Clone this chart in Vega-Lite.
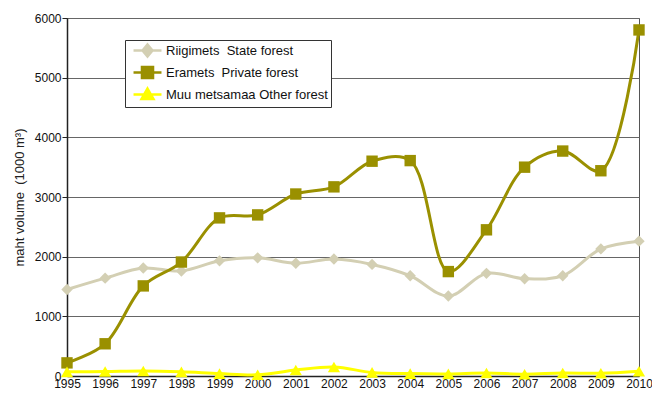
{
  "$schema": "https://vega.github.io/schema/vega-lite/v6.json",
  "width": 572,
  "height": 358,
  "autosize": "none",
  "padding": {"left": 67, "top": 18, "right": 13, "bottom": 20},
  "background": "white",
  "config": {
    "font": "Liberation Sans, Arial, sans-serif",
    "view": {"stroke": "#555", "strokeWidth": 1}
  },
  "data": {
    "values": [
      {"year": 1995, "series": "Riigimets\u00a0\u00a0State forest", "value": 1450},
      {"year": 1996, "series": "Riigimets\u00a0\u00a0State forest", "value": 1640},
      {"year": 1997, "series": "Riigimets\u00a0\u00a0State forest", "value": 1810},
      {"year": 1998, "series": "Riigimets\u00a0\u00a0State forest", "value": 1760},
      {"year": 1999, "series": "Riigimets\u00a0\u00a0State forest", "value": 1930},
      {"year": 2000, "series": "Riigimets\u00a0\u00a0State forest", "value": 1980},
      {"year": 2001, "series": "Riigimets\u00a0\u00a0State forest", "value": 1890},
      {"year": 2002, "series": "Riigimets\u00a0\u00a0State forest", "value": 1960},
      {"year": 2003, "series": "Riigimets\u00a0\u00a0State forest", "value": 1870},
      {"year": 2004, "series": "Riigimets\u00a0\u00a0State forest", "value": 1680},
      {"year": 2005, "series": "Riigimets\u00a0\u00a0State forest", "value": 1340},
      {"year": 2006, "series": "Riigimets\u00a0\u00a0State forest", "value": 1720},
      {"year": 2007, "series": "Riigimets\u00a0\u00a0State forest", "value": 1630},
      {"year": 2008, "series": "Riigimets\u00a0\u00a0State forest", "value": 1680},
      {"year": 2009, "series": "Riigimets\u00a0\u00a0State forest", "value": 2130},
      {"year": 2010, "series": "Riigimets\u00a0\u00a0State forest", "value": 2260},
      {"year": 1995, "series": "Eramets\u00a0\u00a0Private forest", "value": 220},
      {"year": 1996, "series": "Eramets\u00a0\u00a0Private forest", "value": 540},
      {"year": 1997, "series": "Eramets\u00a0\u00a0Private forest", "value": 1510},
      {"year": 1998, "series": "Eramets\u00a0\u00a0Private forest", "value": 1910},
      {"year": 1999, "series": "Eramets\u00a0\u00a0Private forest", "value": 2650},
      {"year": 2000, "series": "Eramets\u00a0\u00a0Private forest", "value": 2700},
      {"year": 2001, "series": "Eramets\u00a0\u00a0Private forest", "value": 3050},
      {"year": 2002, "series": "Eramets\u00a0\u00a0Private forest", "value": 3170},
      {"year": 2003, "series": "Eramets\u00a0\u00a0Private forest", "value": 3600},
      {"year": 2004, "series": "Eramets\u00a0\u00a0Private forest", "value": 3610},
      {"year": 2005, "series": "Eramets\u00a0\u00a0Private forest", "value": 1750},
      {"year": 2006, "series": "Eramets\u00a0\u00a0Private forest", "value": 2450},
      {"year": 2007, "series": "Eramets\u00a0\u00a0Private forest", "value": 3500},
      {"year": 2008, "series": "Eramets\u00a0\u00a0Private forest", "value": 3770},
      {"year": 2009, "series": "Eramets\u00a0\u00a0Private forest", "value": 3440},
      {"year": 2010, "series": "Eramets\u00a0\u00a0Private forest", "value": 5800},
      {"year": 1995, "series": "Muu metsamaa Other forest", "value": 70},
      {"year": 1996, "series": "Muu metsamaa Other forest", "value": 75},
      {"year": 1997, "series": "Muu metsamaa Other forest", "value": 85},
      {"year": 1998, "series": "Muu metsamaa Other forest", "value": 70},
      {"year": 1999, "series": "Muu metsamaa Other forest", "value": 40},
      {"year": 2000, "series": "Muu metsamaa Other forest", "value": 20},
      {"year": 2001, "series": "Muu metsamaa Other forest", "value": 100},
      {"year": 2002, "series": "Muu metsamaa Other forest", "value": 150},
      {"year": 2003, "series": "Muu metsamaa Other forest", "value": 60},
      {"year": 2004, "series": "Muu metsamaa Other forest", "value": 40},
      {"year": 2005, "series": "Muu metsamaa Other forest", "value": 35},
      {"year": 2006, "series": "Muu metsamaa Other forest", "value": 50},
      {"year": 2007, "series": "Muu metsamaa Other forest", "value": 30},
      {"year": 2008, "series": "Muu metsamaa Other forest", "value": 50},
      {"year": 2009, "series": "Muu metsamaa Other forest", "value": 45},
      {"year": 2010, "series": "Muu metsamaa Other forest", "value": 80}
    ]
  },
  "encoding": {
    "x": {
      "field": "year",
      "type": "quantitative",
      "scale": {"domain": [1995, 2010], "nice": false, "zero": false},
      "axis": {
        "title": null,
        "values": [1995,1996,1997,1998,1999,2000,2001,2002,2003,2004,2005,2006,2007,2008,2009,2010],
        "format": "d",
        "grid": false,
        "ticks": false,
        "labelFontSize": 12,
        "labelColor": "#111",
        "labelPadding": 2,
        "labelFlush": false,
        "labelOverlap": false,
        "domainColor": "#222",
        "domainWidth": 1.5
      }
    },
    "y": {
      "field": "value",
      "type": "quantitative",
      "scale": {"domain": [0, 6000], "nice": false},
      "axis": {
        "title": "maht volume\u00a0\u00a0(1000 m³)",
        "titleFontWeight": "normal",
        "titleFontSize": 13,
        "titleColor": "#222",
        "titleAngle": -90,
        "titleX": -48,
        "titleAlign": "center",
        "titleBaseline": "middle",
        "values": [0, 1000, 2000, 3000, 4000, 5000, 6000],
        "format": "d",
        "grid": true,
        "gridColor": "#666",
        "gridWidth": 1,
        "tickSize": 5,
        "tickColor": "#222",
        "labelFontSize": 12,
        "labelColor": "#111",
        "labelPadding": 1,
        "labelFlush": false,
        "domainColor": "#222",
        "domainWidth": 1.5
      }
    }
  },
  "layer": [
    {
      "mark": {"type": "line", "interpolate": "catmull-rom", "strokeWidth": 3},
      "encoding": {
        "color": {
          "field": "series",
          "type": "nominal",
          "sort": ["Riigimets\u00a0\u00a0State forest", "Eramets\u00a0\u00a0Private forest", "Muu metsamaa Other forest"],
          "scale": {
            "domain": ["Riigimets\u00a0\u00a0State forest", "Eramets\u00a0\u00a0Private forest", "Muu metsamaa Other forest"],
            "range": ["#d3cfb3", "#9a9000", "#ffff00"]
          },
          "legend": {
            "title": null,
            "orient": "none",
            "legendX": 58,
            "legendY": 22,
            "direction": "vertical",
            "fillColor": "white",
            "strokeColor": "#333",
            "padding": 3,
            "rowPadding": -1,
            "symbolSize": 144,
            "symbolStrokeWidth": 2.5,
            "labelFontSize": 13,
            "labelColor": "#111",
            "labelOffset": 23,
            "labelLimit": 300,
            "encode": {
              "symbols": {
                "update": {
                  "shape": {"signal": "datum.value[0] === 'R' ? 'M-0.33,0L4.33,0M2,-1L2.83,0L2,1L1.17,0Z' : datum.value[0] === 'E' ? 'M-0.33,0L4.33,0M1.08,-0.92L2.92,-0.92L2.92,0.92L1.08,0.92Z' : 'M-0.33,0L4.33,0M2,-1L3,0.75L1,0.75Z'"},
                  "fill": {"scale": "color", "field": "value"},
                  "stroke": {"scale": "color", "field": "value"},
                  "strokeWidth": {"value": 2.5},
                  "strokeOpacity": {"value": 1},
                  "fillOpacity": {"value": 1},
                  "opacity": {"value": 1}
                }
              }
            }
          }
        }
      }
    },
    {
      "transform": [{"filter": "datum.series[0] === 'R'"}],
      "mark": {"type": "point", "filled": true, "opacity": 1, "shape": "diamond", "size": 130, "color": "#d3cfb3"}
    },
    {
      "transform": [{"filter": "datum.series[0] === 'E'"}],
      "mark": {"type": "point", "filled": true, "opacity": 1, "shape": "square", "size": 130, "color": "#9a9000"}
    },
    {
      "transform": [{"filter": "datum.series[0] === 'M'"}],
      "mark": {"type": "point", "filled": true, "opacity": 1, "shape": "triangle-up", "size": 150, "color": "#ffff00"}
    }
  ]
}
